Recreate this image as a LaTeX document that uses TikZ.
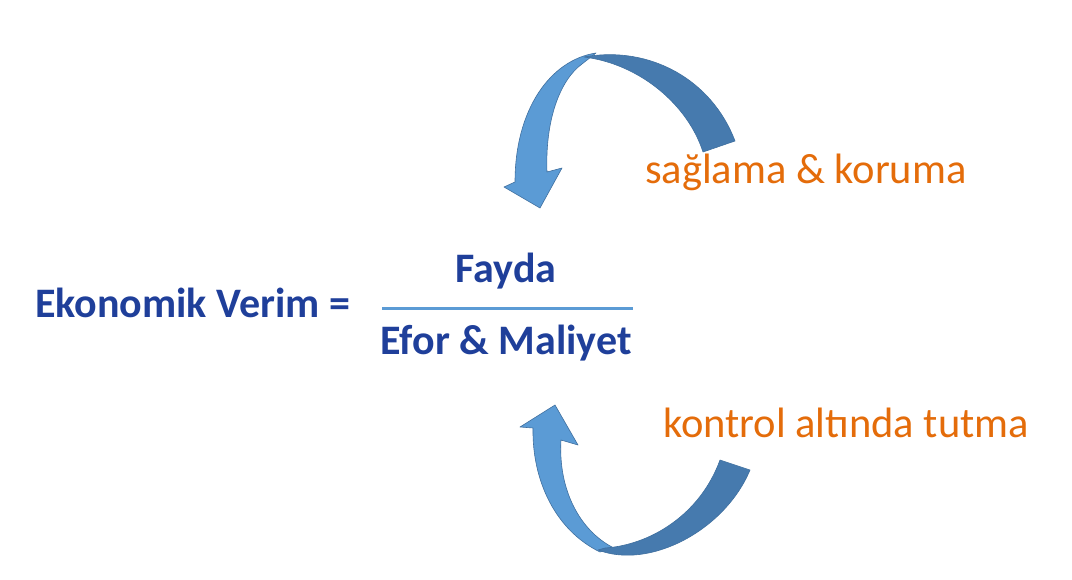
\documentclass[tikz,border=0pt]{standalone}
\usepackage{fontspec}
\setmainfont{Carlito}
\definecolor{txtblue}{HTML}{1F3F9A}
\definecolor{txtorange}{HTML}{E46C0A}
\definecolor{lightband}{HTML}{5B9BD5}
\definecolor{darkband}{HTML}{467AAE}
\definecolor{bandedge}{HTML}{3F6F9F}
\tikzset{
  bluetxt/.style={inner sep=0pt, text=txtblue, font=\fontsize{42}{50}\selectfont\bfseries},
  orangetxt/.style={inner sep=0pt, text=txtorange, font=\fontsize{42.5}{50}\selectfont},
  lightpart/.style={fill=lightband, draw=bandedge, line width=0.6pt, line join=round},
  darkpart/.style={fill=darkband, draw=bandedge, line width=0.6pt, line join=round},
  fracline/.style={draw=lightband, line width=3pt}
}
\begin{document}
\begin{tikzpicture}[x=1pt,y=-1pt]
\useasboundingbox (0,0) rectangle (1072,579);
% texts
\node[bluetxt, anchor=base west] (ev) at (35,317) {Ekonomik Verim =};
\node[bluetxt, anchor=base] (fayda) at (506,282) {Fayda};
\node[bluetxt, anchor=base] (efor) at (506,354) {Efor \& Maliyet};
\node[orangetxt, anchor=base west] (saglama) at (645,183) {sağlama \& koruma};
\node[orangetxt, anchor=base west] (kontrol) at (663,437) {kontrol altında tutma};
% fraction line
\coordinate (fl) at (382,308);
\coordinate (fr) at (633,308);
\draw[fracline] (fl) -- (fr);
% top curved arrow: light part with head
\path[lightpart] (504,187) -- (540,208) -- (562,168) -- (547,172)
  .. controls (545,120) and (560,80) .. (582,64)
  -- (596,53)
  .. controls (550,60) and (515,110) .. (515,182) -- cycle;
% top curved arrow: dark part
\path[darkpart] (735,141) .. controls (712,80) and (650,45) .. (584,57)
  .. controls (640,64) and (688,105) .. (703,152) -- cycle;
% bottom curved arrow: light part with head
\path[lightpart] (520,427) -- (555,405) -- (578,445) -- (561,440)
  .. controls (558,490) and (580,530) .. (612,547)
  -- (600,552)
  .. controls (555,530) and (532,480) .. (533,428) -- cycle;
% bottom curved arrow: dark part
\path[darkpart] (598,550) .. controls (650,570) and (725,530) .. (750,470)
  -- (720,460)
  .. controls (700,515) and (650,545) .. (605,548) -- cycle;
\end{tikzpicture}
\end{document}
